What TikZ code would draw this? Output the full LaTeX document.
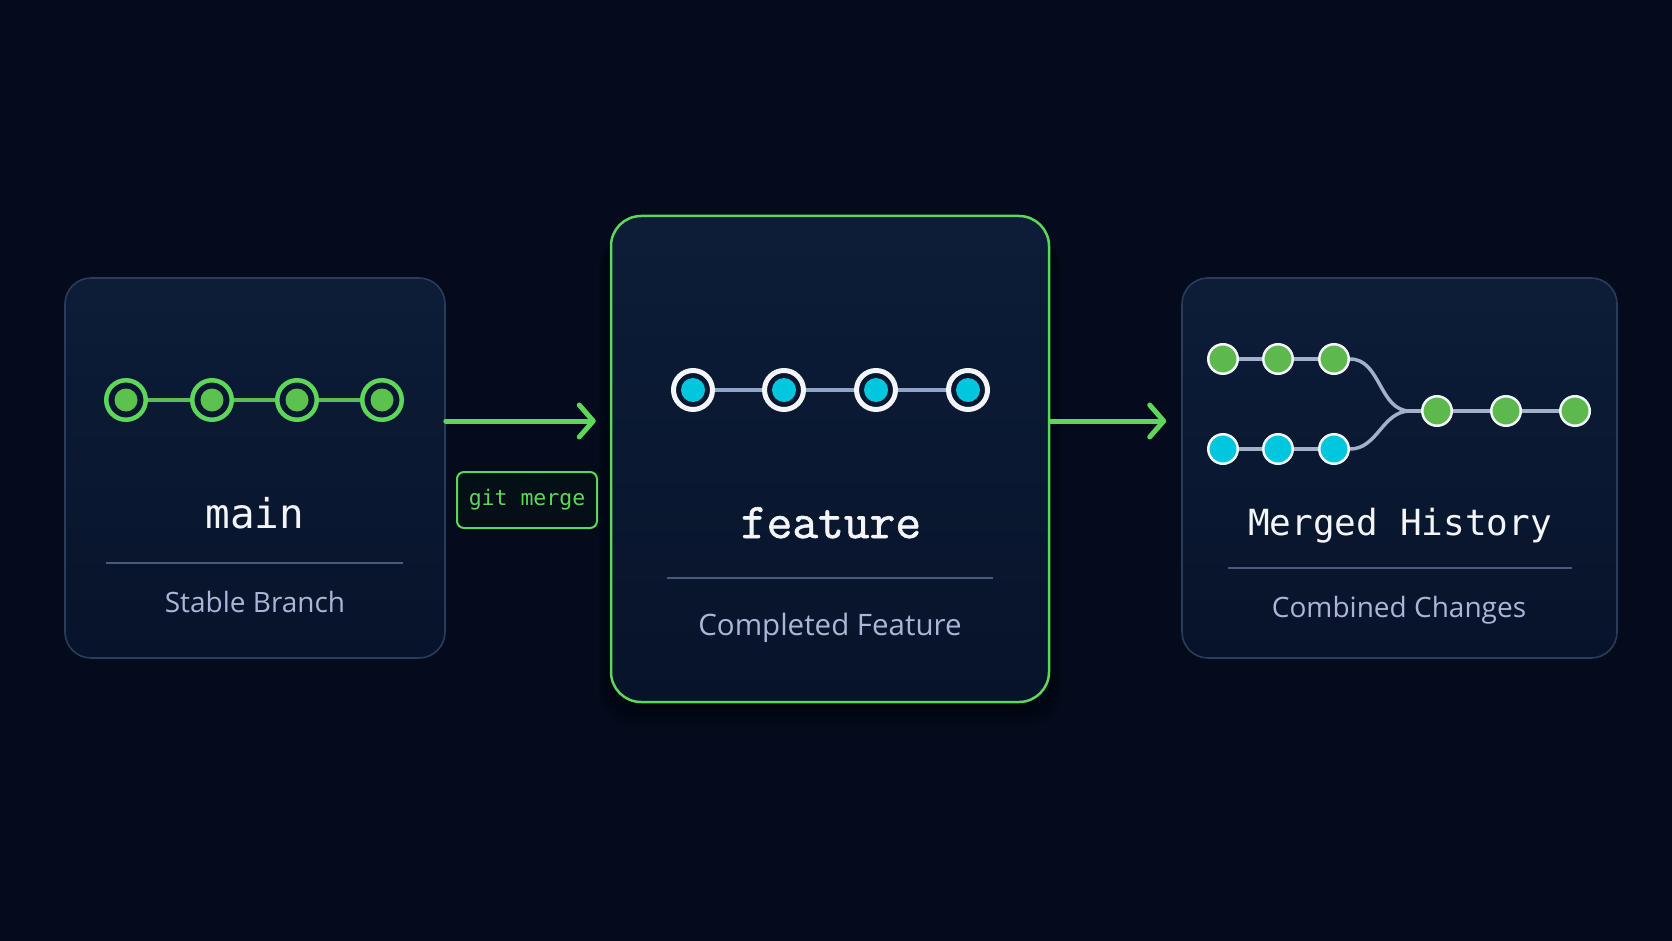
\documentclass[tikz,border=0pt]{standalone}
\usepackage{fontspec}
\setsansfont{Open Sans}
\newfontfamily\monosans{DejaVu Sans Mono}
\newfontfamily\featfont[AutoFakeBold=1.3]{Latin Modern Mono}
\usetikzlibrary{arrows.meta,calc}
\definecolor{bg}{HTML}{030B1C}
\definecolor{cardtop}{HTML}{0D1D38}
\definecolor{cardbot}{HTML}{07132A}
\definecolor{cardedge}{HTML}{2B3C5A}
\definecolor{agreen}{HTML}{5ED65A}
\definecolor{cgreen}{HTML}{5CC24E}
\definecolor{mgreen}{HTML}{5DB94D}
\definecolor{ccyan}{HTML}{00C6DE}
\definecolor{ringwhite}{HTML}{F2F5FA}
\definecolor{dotgap}{HTML}{0A1730}
\definecolor{divcol}{HTML}{4A5A78}
\definecolor{subcol}{HTML}{AAB6D6}
\definecolor{titlecol}{HTML}{F3F5F9}
\definecolor{linkblue}{HTML}{8CA5CB}
\definecolor{linkgray}{HTML}{A3B0C9}
\definecolor{linkgreen}{HTML}{58BD55}
\definecolor{tagfill}{HTML}{040F18}
\begin{document}
\begin{tikzpicture}[x=1pt,y=-1pt,
  card/.style={rectangle, rounded corners=26pt, draw=cardedge, line width=1.6pt,
    top color=cardtop, bottom color=cardbot, inner sep=0pt},
  ringgreen/.style={circle, inner sep=0pt, minimum size=39.5pt, draw=agreen, line width=4.5pt,
    fill=dotgap, path picture={\fill[cgreen] (path picture bounding box.center) circle (11.5pt);}},
  ringcyan/.style={circle, inner sep=0pt, minimum size=39pt, draw=ringwhite, line width=5pt,
    fill=dotgap, path picture={\fill[ccyan] (path picture bounding box.center) circle (12pt);}},
  hgreen/.style={circle, inner sep=0pt, minimum size=29.5pt, draw=ringwhite, line width=2.5pt, fill=mgreen},
  hcyan/.style={circle, inner sep=0pt, minimum size=29.5pt, draw=ringwhite, line width=2.5pt, fill=ccyan},
  glink/.style={draw=linkgreen, line width=4pt},
  blink/.style={draw=linkblue, line width=4pt},
  hlink/.style={draw=linkgray, line width=3.5pt},
  divider/.style={draw=divcol, line width=1.5pt},
  arr/.style={draw=agreen, line width=5pt, line cap=round,
    -{Straight Barb[round,length=14pt,width=32pt]}},
  titlemono/.style={text=titlecol, anchor=base, inner sep=0pt, font=\monosans\fontsize{41}{41}\selectfont},
  subtitle/.style={text=subcol, anchor=base, inner sep=0pt, font=\sffamily\fontsize{28}{28}\selectfont}
]
\useasboundingbox (0,0) rectangle (1672,941);
\fill[bg] (0,0) rectangle (1672,941);

% soft shadow under the middle card
\foreach \k in {1,...,6}
  \fill[black, opacity=0.06, rounded corners=34pt] (611-\k*2,226+\k*1.5) rectangle (1049+\k*2,702+\k*4);

% cards
\node[card, minimum width=380pt, minimum height=380pt] (b1) at (255,468) {};
\node[card, draw=agreen, line width=2.5pt, minimum width=438pt, minimum height=486pt, rounded corners=30pt] (b2) at (830,459) {};
\node[card, minimum width=435pt, minimum height=380pt] (b3) at (1399.5,468) {};

% card 1: main
\node[ringgreen] (m1) at (126,400) {};
\node[ringgreen] (m2) at (212,400) {};
\node[ringgreen] (m3) at (297,400) {};
\node[ringgreen] (m4) at (382,400) {};
\draw[glink] (m1) -- (m2);
\draw[glink] (m2) -- (m3);
\draw[glink] (m3) -- (m4);
\node[titlemono] (t1) at (255,528) {main};
\draw[divider] (106,563) -- (403,563);
\node[subtitle] (s1) at (255,612) {Stable Branch};

% card 2: feature
\node[ringcyan] (f1) at (693,390) {};
\node[ringcyan] (f2) at (784,390) {};
\node[ringcyan] (f3) at (876,390) {};
\node[ringcyan] (f4) at (968,390) {};
\draw[blink] (f1) -- (f2);
\draw[blink] (f2) -- (f3);
\draw[blink] (f3) -- (f4);
\node[text=titlecol, anchor=base, inner sep=0pt, font=\featfont\bfseries\fontsize{50}{50}\selectfont] (t2) at (831,538) {feature};
\draw[divider] (667,578) -- (993,578);
\node[subtitle, font=\sffamily\fontsize{29.5}{29.5}\selectfont] (s2) at (830,635) {Completed Feature};

% card 3: merged history
\node[hgreen] (g1) at (1223,359) {};
\node[hgreen] (g2) at (1278,359) {};
\node[hgreen] (g3) at (1334,359) {};
\node[hcyan] (c1) at (1223,449) {};
\node[hcyan] (c2) at (1278,449) {};
\node[hcyan] (c3) at (1334,449) {};
\node[hgreen] (k1) at (1437,411) {};
\node[hgreen] (k2) at (1506,411) {};
\node[hgreen] (k3) at (1575,411) {};
\coordinate (j) at (1410,411);
\draw[hlink] (g1) -- (g2);
\draw[hlink] (g2) -- (g3);
\draw[hlink] (c1) -- (c2);
\draw[hlink] (c2) -- (c3);
\draw[hlink] (g3.east) to[out=0,in=180] (j);
\draw[hlink] (c3.east) to[out=0,in=180] (j);
\draw[hlink] (j) -- (k1);
\draw[hlink] (k1) -- (k2);
\draw[hlink] (k2) -- (k3);
\node[titlemono, font=\monosans\fontsize{36}{36}\selectfont] (t3) at (1400,535) {Merged History};
\draw[divider] (1228,568) -- (1572,568);
\node[subtitle] (s3) at (1399,617) {Combined Changes};

% arrows
\draw[arr] (b1.east |- 0,421) -- ([xshift=-14pt]b2.west |- 0,421);
\draw[arr] (b2.east |- 0,421) -- ([xshift=-15pt]b3.west |- 0,421);

% git merge tag
\node[draw=agreen, line width=2pt, rounded corners=7pt, fill=tagfill, minimum width=140pt,
  minimum height=56pt, inner sep=0pt, text=agreen, font=\monosans\fontsize{21.5}{21.5}\selectfont] (tag) at (527,500) {git merge};
\end{tikzpicture}
\end{document}
